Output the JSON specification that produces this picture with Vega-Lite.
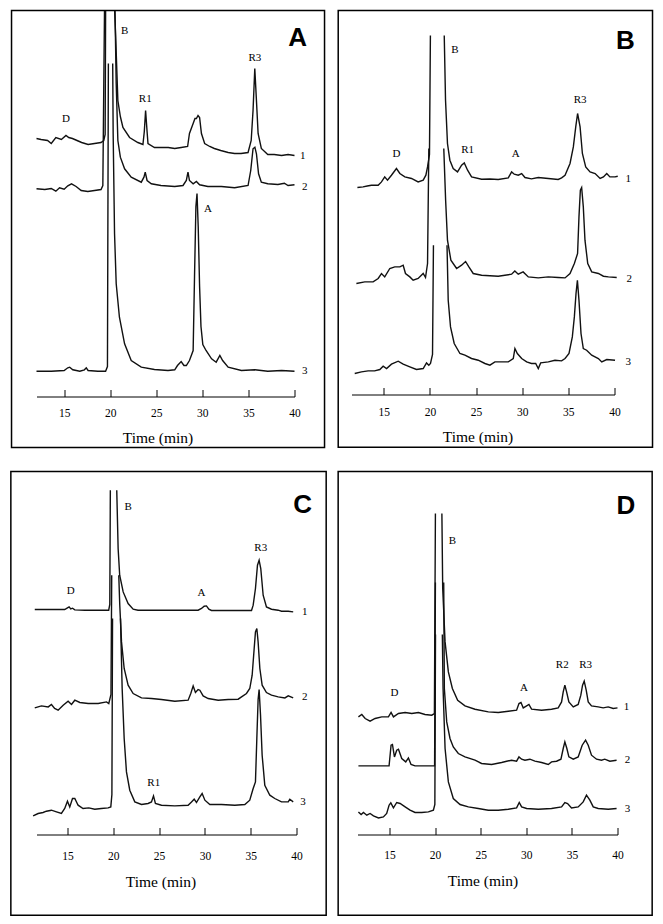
{
  "$schema": "https://vega.github.io/schema/vega-lite/v6.json",
  "padding": {"left": 9.5, "top": 7.5, "right": 0, "bottom": 0},
  "background": "white",
  "config": {"view": {"stroke": null}, "axis": {"grid": false}, "line": {"strokeWidth": 1.4}},
  "datasets": {
    "tracesA": [
      {"k":1,"t":12.0,"s":258},{"k":1,"t":12.5,"s":257},{"k":1,"t":13.2,"s":256},{"k":1,"t":13.6,"s":253},{"k":1,"t":14.1,"s":259},{"k":1,"t":14.7,"s":257},{"k":1,"t":15.2,"s":261},{"k":1,"t":15.5,"s":259},{"k":1,"t":15.9,"s":258},{"k":1,"t":16.4,"s":256},{"k":1,"t":16.9,"s":254},{"k":1,"t":17.6,"s":252},{"k":1,"t":18.3,"s":253},{"k":1,"t":19.0,"s":254},{"k":1,"t":19.3,"s":256},{"k":1,"t":19.45,"s":262},{"k":1,"t":19.5,"s":386},{"k":1,"t":19.9,"s":null},{"k":1,"t":20.48,"s":386},{"k":1,"t":20.58,"s":363},{"k":1,"t":20.83,"s":296},{"k":1,"t":21.1,"s":280},{"k":1,"t":21.38,"s":269},{"k":1,"t":22.1,"s":259},{"k":1,"t":23.0,"s":254},{"k":1,"t":23.55,"s":252},{"k":1,"t":23.7,"s":265},{"k":1,"t":23.84,"s":286},{"k":1,"t":24.0,"s":265},{"k":1,"t":24.1,"s":253},{"k":1,"t":24.8,"s":249},{"k":1,"t":25.5,"s":249},{"k":1,"t":26.3,"s":249},{"k":1,"t":27.0,"s":248},{"k":1,"t":27.7,"s":249},{"k":1,"t":28.4,"s":250},{"k":1,"t":28.6,"s":263},{"k":1,"t":29.0,"s":273},{"k":1,"t":29.2,"s":278},{"k":1,"t":29.35,"s":278},{"k":1,"t":29.53,"s":281},{"k":1,"t":29.7,"s":279},{"k":1,"t":29.9,"s":263},{"k":1,"t":30.25,"s":253},{"k":1,"t":30.8,"s":250},{"k":1,"t":31.3,"s":248},{"k":1,"t":32.0,"s":246},{"k":1,"t":32.8,"s":244},{"k":1,"t":33.5,"s":243},{"k":1,"t":34.2,"s":243},{"k":1,"t":34.96,"s":244},{"k":1,"t":35.3,"s":256},{"k":1,"t":35.5,"s":286},{"k":1,"t":35.69,"s":328},{"k":1,"t":35.87,"s":296},{"k":1,"t":36.05,"s":263},{"k":1,"t":36.4,"s":248},{"k":1,"t":37.1,"s":242},{"k":1,"t":37.8,"s":242},{"k":1,"t":38.6,"s":241},{"k":1,"t":39.3,"s":242},{"k":1,"t":40.0,"s":241},
      {"k":2,"t":12.0,"s":207.7},{"k":2,"t":12.9,"s":207},{"k":2,"t":13.6,"s":208},{"k":2,"t":14.1,"s":205.3},{"k":2,"t":14.5,"s":208.7},{"k":2,"t":15.0,"s":207.3},{"k":2,"t":15.4,"s":210.7},{"k":2,"t":15.8,"s":212.7},{"k":2,"t":16.3,"s":210},{"k":2,"t":16.85,"s":206},{"k":2,"t":17.57,"s":205},{"k":2,"t":18.3,"s":206},{"k":2,"t":19.0,"s":207},{"k":2,"t":19.2,"s":211},{"k":2,"t":19.38,"s":386},{"k":2,"t":19.9,"s":null},{"k":2,"t":20.52,"s":386},{"k":2,"t":20.65,"s":313},{"k":2,"t":20.83,"s":256},{"k":2,"t":21.1,"s":239.3},{"k":2,"t":21.56,"s":227.7},{"k":2,"t":22.28,"s":219.3},{"k":2,"t":23.37,"s":214.3},{"k":2,"t":23.66,"s":219.3},{"k":2,"t":23.8,"s":224.3},{"k":2,"t":24.0,"s":216},{"k":2,"t":24.46,"s":212.7},{"k":2,"t":25.5,"s":211},{"k":2,"t":27.0,"s":210},{"k":2,"t":27.9,"s":211},{"k":2,"t":28.26,"s":216},{"k":2,"t":28.44,"s":224.3},{"k":2,"t":28.6,"s":216},{"k":2,"t":29.0,"s":212.7},{"k":2,"t":29.35,"s":215},{"k":2,"t":29.7,"s":211.7},{"k":2,"t":30.6,"s":210},{"k":2,"t":32.07,"s":210},{"k":2,"t":33.5,"s":208.7},{"k":2,"t":34.96,"s":211},{"k":2,"t":35.25,"s":226},{"k":2,"t":35.5,"s":247.7},{"k":2,"t":35.7,"s":249.3},{"k":2,"t":35.87,"s":242.7},{"k":2,"t":36.1,"s":222.7},{"k":2,"t":36.4,"s":214.3},{"k":2,"t":37.1,"s":212.7},{"k":2,"t":38.2,"s":212},{"k":2,"t":38.9,"s":213.3},{"k":2,"t":39.3,"s":211},{"k":2,"t":40.0,"s":211.7},
      {"k":3,"t":12.0,"s":25.3},{"k":3,"t":13.6,"s":25.3},{"k":3,"t":15.0,"s":26},{"k":3,"t":15.4,"s":28.7},{"k":3,"t":15.6,"s":29.3},{"k":3,"t":15.94,"s":26.7},{"k":3,"t":16.7,"s":25.3},{"k":3,"t":17.2,"s":26.7},{"k":3,"t":17.4,"s":28.7},{"k":3,"t":17.6,"s":26},{"k":3,"t":18.66,"s":25.3},{"k":3,"t":19.5,"s":25.3},{"k":3,"t":19.7,"s":30},{"k":3,"t":19.8,"s":333},{"k":3,"t":20.0,"s":null},{"k":3,"t":20.27,"s":333},{"k":3,"t":20.32,"s":262.7},{"k":3,"t":20.47,"s":162.7},{"k":3,"t":20.65,"s":112.7},{"k":3,"t":21.0,"s":79.3},{"k":3,"t":21.56,"s":52.7},{"k":3,"t":22.28,"s":36},{"k":3,"t":23.37,"s":29.3},{"k":3,"t":24.8,"s":27},{"k":3,"t":26.27,"s":26},{"k":3,"t":27.0,"s":26.7},{"k":3,"t":27.3,"s":31},{"k":3,"t":27.7,"s":35},{"k":3,"t":28.0,"s":31},{"k":3,"t":28.26,"s":31},{"k":3,"t":28.6,"s":36},{"k":3,"t":29.0,"s":46},{"k":3,"t":29.15,"s":120},{"k":3,"t":29.3,"s":190},{"k":3,"t":29.42,"s":203},{"k":3,"t":29.55,"s":170},{"k":3,"t":29.7,"s":110},{"k":3,"t":29.85,"s":70},{"k":3,"t":30.05,"s":52},{"k":3,"t":30.4,"s":46},{"k":3,"t":31.0,"s":37.7},{"k":3,"t":31.5,"s":34.3},{"k":3,"t":31.9,"s":41},{"k":3,"t":32.2,"s":36},{"k":3,"t":32.8,"s":29.3},{"k":3,"t":34.24,"s":26},{"k":3,"t":35.7,"s":26.7},{"k":3,"t":37.1,"s":25.3},{"k":3,"t":38.6,"s":26},{"k":3,"t":40.0,"s":25.3}
    ],
    "labelsA": [
      {"text":"D","t":15.2,"s":277.7},{"text":"B","t":21.56,"s":366},{"text":"R1","t":23.8,"s":297.7},{"text":"R3","t":35.7,"s":339},{"text":"A","t":30.6,"s":187.7},{"text":"1","t":40.9,"s":241},{"text":"2","t":41.1,"s":210},{"text":"3","t":41.1,"s":26}
    ],
    "tracesB": [
      {"k":1,"t":12.14,"s":207},{"k":1,"t":12.76,"s":207.6},{"k":1,"t":13.2,"s":208.5},{"k":1,"t":13.66,"s":209.3},{"k":1,"t":14.39,"s":209.3},{"k":1,"t":14.75,"s":212.6},{"k":1,"t":15.1,"s":217.6},{"k":1,"t":15.4,"s":214.3},{"k":1,"t":15.83,"s":219.3},{"k":1,"t":16.37,"s":226},{"k":1,"t":16.74,"s":221},{"k":1,"t":17.28,"s":217.6},{"k":1,"t":18.0,"s":216},{"k":1,"t":18.72,"s":212.6},{"k":1,"t":19.27,"s":214.3},{"k":1,"t":19.56,"s":219.3},{"k":1,"t":19.74,"s":227.6},{"k":1,"t":19.95,"s":240},{"k":1,"t":20.05,"s":359},{"k":1,"t":20.8,"s":null},{"k":1,"t":21.55,"s":359},{"k":1,"t":21.69,"s":294.3},{"k":1,"t":21.9,"s":251},{"k":1,"t":22.16,"s":234.3},{"k":1,"t":22.52,"s":226},{"k":1,"t":22.99,"s":222.6},{"k":1,"t":23.43,"s":229.3},{"k":1,"t":23.72,"s":231.6},{"k":1,"t":24.08,"s":224.3},{"k":1,"t":24.51,"s":217.6},{"k":1,"t":25.6,"s":215.3},{"k":1,"t":26.5,"s":215.5},{"k":1,"t":27.4,"s":215},{"k":1,"t":28.49,"s":216.6},{"k":1,"t":28.85,"s":222.6},{"k":1,"t":29.14,"s":220.3},{"k":1,"t":29.57,"s":219.3},{"k":1,"t":29.94,"s":221},{"k":1,"t":30.3,"s":217},{"k":1,"t":31.0,"s":215.6},{"k":1,"t":31.74,"s":217},{"k":1,"t":32.83,"s":216},{"k":1,"t":33.9,"s":215},{"k":1,"t":34.27,"s":216.6},{"k":1,"t":34.64,"s":219.3},{"k":1,"t":35.18,"s":231},{"k":1,"t":35.54,"s":247.6},{"k":1,"t":35.8,"s":267.6},{"k":1,"t":36.0,"s":281},{"k":1,"t":36.27,"s":267.6},{"k":1,"t":36.52,"s":241},{"k":1,"t":36.88,"s":227.6},{"k":1,"t":37.35,"s":222.6},{"k":1,"t":37.9,"s":221},{"k":1,"t":38.44,"s":216},{"k":1,"t":38.8,"s":217.6},{"k":1,"t":39.16,"s":221},{"k":1,"t":39.5,"s":217.6},{"k":1,"t":40.06,"s":217.6},{"k":1,"t":40.35,"s":218.3},
      {"k":2,"t":12.03,"s":111},{"k":2,"t":12.94,"s":112.6},{"k":2,"t":13.84,"s":112.6},{"k":2,"t":14.39,"s":116},{"k":2,"t":14.75,"s":121},{"k":2,"t":15.1,"s":117.6},{"k":2,"t":15.65,"s":126},{"k":2,"t":16.19,"s":127.6},{"k":2,"t":16.74,"s":127.6},{"k":2,"t":17.1,"s":129.3},{"k":2,"t":17.35,"s":121},{"k":2,"t":17.82,"s":117.6},{"k":2,"t":18.18,"s":114.3},{"k":2,"t":18.72,"s":116},{"k":2,"t":19.27,"s":121},{"k":2,"t":19.52,"s":117},{"k":2,"t":19.74,"s":131},{"k":2,"t":19.88,"s":246},{"k":2,"t":20.7,"s":null},{"k":2,"t":21.5,"s":246},{"k":2,"t":21.7,"s":194.3},{"k":2,"t":21.9,"s":154.3},{"k":2,"t":22.27,"s":134.3},{"k":2,"t":22.89,"s":126},{"k":2,"t":23.43,"s":129.3},{"k":2,"t":23.86,"s":133},{"k":2,"t":24.22,"s":127.6},{"k":2,"t":24.69,"s":121},{"k":2,"t":25.6,"s":119.3},{"k":2,"t":27.4,"s":118.3},{"k":2,"t":28.85,"s":120.3},{"k":2,"t":29.2,"s":123.6},{"k":2,"t":29.57,"s":120.3},{"k":2,"t":30.1,"s":122.6},{"k":2,"t":30.66,"s":117.6},{"k":2,"t":31.74,"s":116.6},{"k":2,"t":32.83,"s":117.6},{"k":2,"t":33.9,"s":117},{"k":2,"t":34.64,"s":116.6},{"k":2,"t":35.18,"s":121},{"k":2,"t":35.65,"s":131},{"k":2,"t":36.0,"s":141},{"k":2,"t":36.15,"s":177.6},{"k":2,"t":36.3,"s":204.3},{"k":2,"t":36.44,"s":207},{"k":2,"t":36.62,"s":187.6},{"k":2,"t":36.8,"s":154.3},{"k":2,"t":37.1,"s":131},{"k":2,"t":37.53,"s":122.6},{"k":2,"t":38.25,"s":121},{"k":2,"t":38.8,"s":118.3},{"k":2,"t":39.34,"s":117.6},{"k":2,"t":40.24,"s":117},
      {"k":3,"t":11.85,"s":21},{"k":3,"t":12.58,"s":22.6},{"k":3,"t":13.3,"s":23.6},{"k":3,"t":14.0,"s":23.6},{"k":3,"t":14.57,"s":25},{"k":3,"t":14.93,"s":28.3},{"k":3,"t":15.3,"s":26},{"k":3,"t":15.83,"s":30.3},{"k":3,"t":16.56,"s":33.3},{"k":3,"t":17.1,"s":30.3},{"k":3,"t":17.82,"s":27.6},{"k":3,"t":18.54,"s":25},{"k":3,"t":19.27,"s":26},{"k":3,"t":19.63,"s":31.6},{"k":3,"t":19.88,"s":29.3},{"k":3,"t":20.06,"s":31},{"k":3,"t":20.28,"s":40},{"k":3,"t":20.38,"s":149.3},{"k":3,"t":21.0,"s":null},{"k":3,"t":21.85,"s":149.3},{"k":3,"t":21.98,"s":94.3},{"k":3,"t":22.23,"s":67.6},{"k":3,"t":22.63,"s":51},{"k":3,"t":23.25,"s":41},{"k":3,"t":23.79,"s":39.3},{"k":3,"t":24.51,"s":36},{"k":3,"t":25.23,"s":34.3},{"k":3,"t":25.96,"s":31},{"k":3,"t":26.5,"s":29.3},{"k":3,"t":27.04,"s":32.6},{"k":3,"t":27.77,"s":32.6},{"k":3,"t":28.49,"s":32.6},{"k":3,"t":29.03,"s":36},{"k":3,"t":29.21,"s":46},{"k":3,"t":29.47,"s":41},{"k":3,"t":29.94,"s":36},{"k":3,"t":30.48,"s":32.6},{"k":3,"t":31.0,"s":31},{"k":3,"t":31.46,"s":31},{"k":3,"t":31.74,"s":26},{"k":3,"t":32.0,"s":31.6},{"k":3,"t":32.83,"s":32.6},{"k":3,"t":33.55,"s":34.3},{"k":3,"t":34.27,"s":33.6},{"k":3,"t":34.64,"s":36},{"k":3,"t":35.07,"s":41},{"k":3,"t":35.43,"s":57.6},{"k":3,"t":35.65,"s":77.6},{"k":3,"t":35.83,"s":101},{"k":3,"t":35.98,"s":114.3},{"k":3,"t":36.15,"s":94.3},{"k":3,"t":36.37,"s":61},{"k":3,"t":36.62,"s":46},{"k":3,"t":36.98,"s":44.3},{"k":3,"t":37.53,"s":39.3},{"k":3,"t":38.25,"s":36},{"k":3,"t":38.62,"s":32.6},{"k":3,"t":39.16,"s":35},{"k":3,"t":40.06,"s":34.3}
    ],
    "labelsB": [
      {"text":"D","t":16.37,"s":241},{"text":"B","t":22.7,"s":345},{"text":"R1","t":24.08,"s":244.3},{"text":"A","t":29.29,"s":240.3},{"text":"R3","t":36.27,"s":294.3},{"text":"1","t":41.5,"s":216},{"text":"2","t":41.6,"s":116},{"text":"3","t":41.5,"s":32.6}
    ],
    "tracesC": [
      {"k":1,"t":11.43,"s":225},{"k":1,"t":12.5,"s":225},{"k":1,"t":13.5,"s":225},{"k":1,"t":14.7,"s":225},{"k":1,"t":15.0,"s":226.6},{"k":1,"t":15.18,"s":227.6},{"k":1,"t":15.36,"s":225.6},{"k":1,"t":15.55,"s":226.3},{"k":1,"t":15.8,"s":224.6},{"k":1,"t":16.9,"s":224.3},{"k":1,"t":18.7,"s":224.3},{"k":1,"t":19.5,"s":224.3},{"k":1,"t":19.62,"s":230},{"k":1,"t":19.68,"s":344.3},{"k":1,"t":20.0,"s":null},{"k":1,"t":20.38,"s":344.3},{"k":1,"t":20.53,"s":286},{"k":1,"t":20.7,"s":259.3},{"k":1,"t":21.08,"s":242.6},{"k":1,"t":21.62,"s":231},{"k":1,"t":22.17,"s":225.3},{"k":1,"t":22.7,"s":224.3},{"k":1,"t":26.0,"s":224.3},{"k":1,"t":29.26,"s":224.3},{"k":1,"t":29.63,"s":226},{"k":1,"t":29.92,"s":228.3},{"k":1,"t":30.17,"s":228.6},{"k":1,"t":30.43,"s":225.3},{"k":1,"t":30.72,"s":224},{"k":1,"t":33.27,"s":224},{"k":1,"t":35.09,"s":224},{"k":1,"t":35.27,"s":229.3},{"k":1,"t":35.52,"s":246},{"k":1,"t":35.74,"s":269.3},{"k":1,"t":35.92,"s":274.3},{"k":1,"t":36.1,"s":266},{"k":1,"t":36.36,"s":239.3},{"k":1,"t":36.72,"s":227.6},{"k":1,"t":37.27,"s":225.3},{"k":1,"t":38.0,"s":224.3},{"k":1,"t":38.36,"s":223.3},{"k":1,"t":39.1,"s":223.3},{"k":1,"t":39.64,"s":222.6},
      {"k":2,"t":11.43,"s":126.6},{"k":2,"t":12.16,"s":128.6},{"k":2,"t":12.9,"s":127.6},{"k":2,"t":13.25,"s":130},{"k":2,"t":13.6,"s":126},{"k":2,"t":13.98,"s":124.3},{"k":2,"t":14.53,"s":129.3},{"k":2,"t":15.07,"s":133.3},{"k":2,"t":15.44,"s":130},{"k":2,"t":15.8,"s":134.3},{"k":2,"t":16.35,"s":132},{"k":2,"t":17.26,"s":131},{"k":2,"t":18.35,"s":131},{"k":2,"t":19.26,"s":132.6},{"k":2,"t":19.51,"s":131},{"k":2,"t":19.75,"s":140},{"k":2,"t":19.83,"s":259.3},{"k":2,"t":20.2,"s":null},{"k":2,"t":20.6,"s":259.3},{"k":2,"t":20.71,"s":229.3},{"k":2,"t":20.9,"s":192.6},{"k":2,"t":21.19,"s":166},{"k":2,"t":21.62,"s":149.3},{"k":2,"t":22.17,"s":141},{"k":2,"t":23.08,"s":136.6},{"k":2,"t":24.17,"s":136},{"k":2,"t":25.26,"s":135},{"k":2,"t":26.72,"s":133.3},{"k":2,"t":28.17,"s":134.3},{"k":2,"t":28.46,"s":141},{"k":2,"t":28.72,"s":148.6},{"k":2,"t":28.97,"s":142},{"k":2,"t":29.26,"s":145},{"k":2,"t":29.45,"s":144.3},{"k":2,"t":29.81,"s":138.6},{"k":2,"t":30.36,"s":136},{"k":2,"t":31.45,"s":134.3},{"k":2,"t":32.54,"s":135},{"k":2,"t":33.63,"s":135.3},{"k":2,"t":34.0,"s":137.6},{"k":2,"t":34.54,"s":141},{"k":2,"t":34.9,"s":146},{"k":2,"t":35.16,"s":159.3},{"k":2,"t":35.38,"s":186},{"k":2,"t":35.52,"s":202.6},{"k":2,"t":35.67,"s":206},{"k":2,"t":35.81,"s":192.6},{"k":2,"t":36.0,"s":166},{"k":2,"t":36.25,"s":149.3},{"k":2,"t":36.72,"s":142},{"k":2,"t":37.27,"s":139.3},{"k":2,"t":38.0,"s":137.6},{"k":2,"t":38.73,"s":136.6},{"k":2,"t":39.1,"s":138.6},{"k":2,"t":39.64,"s":136.6},
      {"k":3,"t":11.25,"s":18.6},{"k":3,"t":11.8,"s":21},{"k":3,"t":12.34,"s":22},{"k":3,"t":12.7,"s":23.3},{"k":3,"t":13.25,"s":24.3},{"k":3,"t":13.8,"s":22.6},{"k":3,"t":14.34,"s":21},{"k":3,"t":14.7,"s":26},{"k":3,"t":15.0,"s":33.3},{"k":3,"t":15.25,"s":27.6},{"k":3,"t":15.55,"s":36},{"k":3,"t":15.8,"s":36},{"k":3,"t":16.16,"s":29.3},{"k":3,"t":16.7,"s":26},{"k":3,"t":17.33,"s":26.6},{"k":3,"t":17.98,"s":25.3},{"k":3,"t":18.7,"s":26},{"k":3,"t":19.44,"s":26.6},{"k":3,"t":19.73,"s":27.6},{"k":3,"t":19.85,"s":40},{"k":3,"t":19.92,"s":216},{"k":3,"t":20.3,"s":null},{"k":3,"t":20.79,"s":216},{"k":3,"t":20.97,"s":146},{"k":3,"t":21.19,"s":96},{"k":3,"t":21.44,"s":62.6},{"k":3,"t":21.8,"s":44.3},{"k":3,"t":22.35,"s":32.6},{"k":3,"t":23.08,"s":30},{"k":3,"t":23.8,"s":31},{"k":3,"t":24.17,"s":32.6},{"k":3,"t":24.39,"s":38.6},{"k":3,"t":24.6,"s":31},{"k":3,"t":25.26,"s":29.3},{"k":3,"t":26.72,"s":28.6},{"k":3,"t":28.17,"s":29.3},{"k":3,"t":28.54,"s":32.6},{"k":3,"t":28.83,"s":35.3},{"k":3,"t":29.08,"s":32},{"k":3,"t":29.45,"s":37.6},{"k":3,"t":29.7,"s":41},{"k":3,"t":30.0,"s":34.3},{"k":3,"t":30.54,"s":30},{"k":3,"t":31.81,"s":30},{"k":3,"t":33.27,"s":29.3},{"k":3,"t":34.36,"s":30},{"k":3,"t":34.9,"s":34.3},{"k":3,"t":35.27,"s":46},{"k":3,"t":35.52,"s":52.6},{"k":3,"t":35.67,"s":96},{"k":3,"t":35.81,"s":135},{"k":3,"t":35.92,"s":145},{"k":3,"t":36.07,"s":120},{"k":3,"t":36.25,"s":79.3},{"k":3,"t":36.54,"s":49.3},{"k":3,"t":37.09,"s":39.3},{"k":3,"t":37.63,"s":36},{"k":3,"t":38.36,"s":32.6},{"k":3,"t":39.1,"s":32.6},{"k":3,"t":39.27,"s":35.3},{"k":3,"t":39.64,"s":32.6}
    ],
    "labelsC": [
      {"text":"D","t":15.36,"s":243.3},{"text":"B","t":21.62,"s":327.6},{"text":"A","t":29.63,"s":242},{"text":"R3","t":36.1,"s":286.6},{"text":"R1","t":24.42,"s":52},{"text":"1","t":40.9,"s":222.6},{"text":"2","t":40.9,"s":137.6},{"text":"3","t":40.7,"s":32.6}
    ],
    "tracesD": [
      {"k":1,"t":11.6,"s":117.6},{"k":1,"t":11.97,"s":120},{"k":1,"t":12.34,"s":116},{"k":1,"t":12.88,"s":113.3},{"k":1,"t":13.43,"s":116},{"k":1,"t":14.16,"s":117.6},{"k":1,"t":14.89,"s":117.6},{"k":1,"t":15.18,"s":122},{"k":1,"t":15.44,"s":117.6},{"k":1,"t":15.99,"s":121},{"k":1,"t":16.72,"s":122},{"k":1,"t":17.45,"s":121},{"k":1,"t":18.18,"s":122},{"k":1,"t":18.9,"s":120},{"k":1,"t":19.64,"s":119.3},{"k":1,"t":19.93,"s":121},{"k":1,"t":20.04,"s":321},{"k":1,"t":20.4,"s":null},{"k":1,"t":20.75,"s":321},{"k":1,"t":20.84,"s":246},{"k":1,"t":21.1,"s":192.6},{"k":1,"t":21.46,"s":162.6},{"k":1,"t":21.9,"s":146},{"k":1,"t":22.48,"s":134.3},{"k":1,"t":23.28,"s":128.6},{"k":1,"t":24.38,"s":125.3},{"k":1,"t":25.84,"s":122.6},{"k":1,"t":26.93,"s":122},{"k":1,"t":28.03,"s":123.3},{"k":1,"t":28.94,"s":124.3},{"k":1,"t":29.2,"s":131},{"k":1,"t":29.42,"s":132},{"k":1,"t":29.67,"s":126.6},{"k":1,"t":30.04,"s":128.6},{"k":1,"t":30.29,"s":130},{"k":1,"t":30.58,"s":125.3},{"k":1,"t":31.68,"s":124.3},{"k":1,"t":32.77,"s":125.3},{"k":1,"t":33.5,"s":126.6},{"k":1,"t":33.87,"s":132.6},{"k":1,"t":34.05,"s":142.6},{"k":1,"t":34.23,"s":149.3},{"k":1,"t":34.42,"s":142.6},{"k":1,"t":34.67,"s":132.6},{"k":1,"t":35.15,"s":127.6},{"k":1,"t":35.69,"s":130},{"k":1,"t":35.98,"s":139.3},{"k":1,"t":36.17,"s":149.3},{"k":1,"t":36.35,"s":153.3},{"k":1,"t":36.57,"s":144.3},{"k":1,"t":36.79,"s":132.6},{"k":1,"t":37.15,"s":128.6},{"k":1,"t":37.88,"s":127.6},{"k":1,"t":38.43,"s":126.6},{"k":1,"t":38.98,"s":127.6},{"k":1,"t":39.53,"s":126},{"k":1,"t":40.0,"s":126.6},
      {"k":2,"t":11.6,"s":68.6},{"k":2,"t":14.96,"s":68.6},{"k":2,"t":15.18,"s":89.3},{"k":2,"t":15.33,"s":90},{"k":2,"t":15.55,"s":77.6},{"k":2,"t":15.8,"s":84.3},{"k":2,"t":15.99,"s":85.3},{"k":2,"t":16.35,"s":76},{"k":2,"t":16.79,"s":72.6},{"k":2,"t":17.08,"s":76.6},{"k":2,"t":17.37,"s":70},{"k":2,"t":17.81,"s":68.6},{"k":2,"t":19.95,"s":68.6},{"k":2,"t":20.04,"s":252},{"k":2,"t":20.5,"s":null},{"k":2,"t":20.95,"s":252},{"k":2,"t":21.02,"s":146},{"k":2,"t":21.28,"s":112.6},{"k":2,"t":21.64,"s":96},{"k":2,"t":22.0,"s":87.6},{"k":2,"t":22.55,"s":81},{"k":2,"t":23.28,"s":77.6},{"k":2,"t":24.38,"s":74.3},{"k":2,"t":25.1,"s":71},{"k":2,"t":26.2,"s":70},{"k":2,"t":27.3,"s":72},{"k":2,"t":27.85,"s":73.3},{"k":2,"t":28.39,"s":74.3},{"k":2,"t":28.94,"s":73.3},{"k":2,"t":29.2,"s":77.6},{"k":2,"t":29.49,"s":75.3},{"k":2,"t":29.85,"s":74.3},{"k":2,"t":30.4,"s":75.3},{"k":2,"t":30.95,"s":73.3},{"k":2,"t":31.68,"s":72},{"k":2,"t":32.41,"s":70},{"k":2,"t":32.77,"s":72.6},{"k":2,"t":33.32,"s":73.3},{"k":2,"t":33.8,"s":75.3},{"k":2,"t":34.05,"s":86},{"k":2,"t":34.23,"s":92.6},{"k":2,"t":34.45,"s":86},{"k":2,"t":34.67,"s":77.6},{"k":2,"t":35.15,"s":75.3},{"k":2,"t":35.69,"s":77.6},{"k":2,"t":36.13,"s":89.3},{"k":2,"t":36.5,"s":94.3},{"k":2,"t":36.79,"s":89.3},{"k":2,"t":37.15,"s":79.3},{"k":2,"t":37.7,"s":75.3},{"k":2,"t":38.25,"s":74.3},{"k":2,"t":38.6,"s":75.3},{"k":2,"t":39.16,"s":73.3},{"k":2,"t":39.9,"s":74.3},
      {"k":3,"t":11.6,"s":22.6},{"k":3,"t":11.9,"s":20},{"k":3,"t":12.15,"s":22},{"k":3,"t":12.52,"s":19.3},{"k":3,"t":12.88,"s":21},{"k":3,"t":13.25,"s":18.6},{"k":3,"t":13.8,"s":16.6},{"k":3,"t":14.34,"s":17.6},{"k":3,"t":14.7,"s":21},{"k":3,"t":14.96,"s":29.3},{"k":3,"t":15.15,"s":31.6},{"k":3,"t":15.44,"s":26.6},{"k":3,"t":15.8,"s":32},{"k":3,"t":16.17,"s":31},{"k":3,"t":16.72,"s":27.6},{"k":3,"t":17.26,"s":24.3},{"k":3,"t":17.81,"s":22},{"k":3,"t":18.54,"s":22},{"k":3,"t":19.27,"s":22.6},{"k":3,"t":19.82,"s":24.3},{"k":3,"t":19.98,"s":30},{"k":3,"t":20.05,"s":200},{"k":3,"t":20.4,"s":null},{"k":3,"t":20.8,"s":200},{"k":3,"t":20.88,"s":146},{"k":3,"t":21.1,"s":86},{"k":3,"t":21.46,"s":52.6},{"k":3,"t":22.0,"s":36},{"k":3,"t":22.74,"s":30},{"k":3,"t":23.65,"s":27.6},{"k":3,"t":24.74,"s":26},{"k":3,"t":25.84,"s":24.3},{"k":3,"t":26.93,"s":24.3},{"k":3,"t":28.03,"s":25.3},{"k":3,"t":28.94,"s":26.6},{"k":3,"t":29.23,"s":32},{"k":3,"t":29.49,"s":27.6},{"k":3,"t":30.04,"s":26},{"k":3,"t":31.31,"s":25.3},{"k":3,"t":32.77,"s":26},{"k":3,"t":33.87,"s":27.6},{"k":3,"t":34.23,"s":32},{"k":3,"t":34.53,"s":31},{"k":3,"t":34.96,"s":26.6},{"k":3,"t":35.69,"s":27.6},{"k":3,"t":36.24,"s":32.6},{"k":3,"t":36.6,"s":39.3},{"k":3,"t":36.97,"s":34.3},{"k":3,"t":37.34,"s":27.6},{"k":3,"t":37.88,"s":26},{"k":3,"t":38.98,"s":25.3},{"k":3,"t":39.9,"s":26}
    ],
    "labelsD": [
      {"text":"D","t":15.55,"s":142},{"text":"B","t":21.9,"s":293.3},{"text":"A","t":29.74,"s":146.6},{"text":"R2","t":33.94,"s":170},{"text":"R3","t":36.5,"s":170},{"text":"1","t":41.0,"s":127.6},{"text":"2","t":41.1,"s":74.3},{"text":"3","t":41.1,"s":26}
    ]
  },
  "columns": 1,
  "align": "none",
  "spacing": 22,
  "concat": [
    {
      "spacing": 11,
      "hconcat": [
        {
          "width": 258, "height": 386,
          "layer": [
            {
              "data": {"name": "tracesA"},
              "mark": {"type": "line", "color": "#111", "invalid": "break-paths-filter-domains"},
              "encoding": {
                "x": {"field": "t", "type": "quantitative", "scale": {"domain": [12, 40], "nice": false, "zero": false},
                  "axis": {"values": [15,20,25,30,35,40], "title": "Time (min)", "grid": false, "domainColor": "#000", "domainWidth": 1, "tickColor": "#000", "tickWidth": 1, "tickSize": -7, "labelPadding": 24, "labelBaseline": "middle", "labelFont": "Liberation Serif", "labelFontSize": 11.5, "labelColor": "#000", "labelFlush": false, "labelOverlap": false, "titleFont": "Liberation Serif", "titleFontSize": 15.5, "titleFontWeight": "normal", "titleColor": "#000", "titleX": 121, "titleY": 41, "titleBaseline": "middle", "titleAlign": "center"}},
                "y": {"field": "s", "type": "quantitative", "scale": {"domain": [0, 386], "nice": false, "zero": false}, "axis": null},
                "detail": {"field": "k"}
              }
            },
            {
              "data": {"name": "labelsA"},
              "mark": {"type": "text", "font": "Liberation Serif", "fontSize": 11, "color": "#000", "align": "center", "baseline": "middle"},
              "encoding": {"x": {"field": "t", "type": "quantitative"}, "y": {"field": "s", "type": "quantitative", "axis": null}, "text": {"field": "text"}}
            },
            {
              "data": {"values": [{"letter": "A"}]},
              "mark": {"type": "text", "font": "Liberation Sans", "fontWeight": "bold", "fontSize": 26, "color": "#000", "align": "center", "baseline": "middle"},
              "encoding": {"x": {"datum": 40.33, "type": "quantitative"}, "y": {"datum": 358.5, "type": "quantitative", "axis": null}, "text": {"field": "letter"}}
            },
            {
              "data": {"values": [{}]},
              "mark": {"type": "rect", "filled": false, "stroke": "#000", "strokeWidth": 1.5},
              "encoding": {"x": {"datum": 9.29, "type": "quantitative"}, "x2": {"datum": 43.26}, "y": {"datum": -51, "type": "quantitative", "axis": null}, "y2": {"datum": 386}}
            }
          ]
        },
        {
          "width": 263, "height": 384,
          "layer": [
            {
              "data": {"name": "tracesB"},
              "mark": {"type": "line", "color": "#111", "invalid": "break-paths-filter-domains"},
              "encoding": {
                "x": {"field": "t", "type": "quantitative", "scale": {"domain": [11.5, 40], "nice": false, "zero": false},
                  "axis": {"values": [15,20,25,30,35,40], "title": "Time (min)", "grid": false, "domainColor": "#000", "domainWidth": 1, "tickColor": "#000", "tickWidth": 1, "tickSize": -7, "labelPadding": 25, "labelBaseline": "middle", "labelFont": "Liberation Serif", "labelFontSize": 11.5, "labelColor": "#000", "labelFlush": false, "labelOverlap": false, "titleFont": "Liberation Serif", "titleFontSize": 15.5, "titleFontWeight": "normal", "titleColor": "#000", "titleX": 126, "titleY": 42, "titleBaseline": "middle", "titleAlign": "center"}},
                "y": {"field": "s", "type": "quantitative", "scale": {"domain": [0, 384], "nice": false, "zero": false}, "axis": null},
                "detail": {"field": "k"}
              }
            },
            {
              "data": {"name": "labelsB"},
              "mark": {"type": "text", "font": "Liberation Serif", "fontSize": 11, "color": "#000", "align": "center", "baseline": "middle"},
              "encoding": {"x": {"field": "t", "type": "quantitative"}, "y": {"field": "s", "type": "quantitative", "axis": null}, "text": {"field": "text"}}
            },
            {
              "data": {"values": [{"letter": "B"}]},
              "mark": {"type": "text", "font": "Liberation Sans", "fontWeight": "bold", "fontSize": 26, "color": "#000", "align": "center", "baseline": "middle"},
              "encoding": {"x": {"datum": 41.19, "type": "quantitative"}, "y": {"datum": 353.3, "type": "quantitative", "axis": null}, "text": {"field": "letter"}}
            },
            {
              "data": {"values": [{}]},
              "mark": {"type": "rect", "filled": false, "stroke": "#000", "strokeWidth": 1.5},
              "encoding": {"x": {"datum": 10.06, "type": "quantitative"}, "x2": {"datum": 44.12}, "y": {"datum": -52.7, "type": "quantitative", "axis": null}, "y2": {"datum": 384}}
            }
          ]
        }
      ]
    },
    {
      "spacing": 9,
      "hconcat": [
        {
          "width": 260, "height": 363,
          "layer": [
            {
              "data": {"name": "tracesC"},
              "mark": {"type": "line", "color": "#111", "invalid": "break-paths-filter-domains"},
              "encoding": {
                "x": {"field": "t", "type": "quantitative", "scale": {"domain": [11.62, 40], "nice": false, "zero": false},
                  "axis": {"values": [15,20,25,30,35,40], "title": "Time (min)", "grid": false, "domainColor": "#000", "domainWidth": 1, "tickColor": "#000", "tickWidth": 1, "tickSize": -7, "labelPadding": 28.7, "labelBaseline": "middle", "labelFont": "Liberation Serif", "labelFontSize": 11.5, "labelColor": "#000", "labelFlush": false, "labelOverlap": false, "titleFont": "Liberation Serif", "titleFontSize": 15.5, "titleFontWeight": "normal", "titleColor": "#000", "titleX": 124, "titleY": 47, "titleBaseline": "middle", "titleAlign": "center"}},
                "y": {"field": "s", "type": "quantitative", "scale": {"domain": [0, 363], "nice": false, "zero": false}, "axis": null},
                "detail": {"field": "k"}
              }
            },
            {
              "data": {"name": "labelsC"},
              "mark": {"type": "text", "font": "Liberation Serif", "fontSize": 11, "color": "#000", "align": "center", "baseline": "middle"},
              "encoding": {"x": {"field": "t", "type": "quantitative"}, "y": {"field": "s", "type": "quantitative", "axis": null}, "text": {"field": "text"}}
            },
            {
              "data": {"values": [{"letter": "C"}]},
              "mark": {"type": "text", "font": "Liberation Sans", "fontWeight": "bold", "fontSize": 26, "color": "#000", "align": "center", "baseline": "middle"},
              "encoding": {"x": {"datum": 40.68, "type": "quantitative"}, "y": {"datum": 329.6, "type": "quantitative", "axis": null}, "text": {"field": "letter"}}
            },
            {
              "data": {"values": [{}]},
              "mark": {"type": "rect", "filled": false, "stroke": "#000", "strokeWidth": 1.5},
              "encoding": {"x": {"datum": 8.82, "type": "quantitative"}, "x2": {"datum": 43.24}, "y": {"datum": -80.7, "type": "quantitative", "axis": null}, "y2": {"datum": 363}}
            }
          ]
        },
        {
          "width": 260, "height": 363,
          "layer": [
            {
              "data": {"name": "tracesD"},
              "mark": {"type": "line", "color": "#111", "invalid": "break-paths-filter-domains"},
              "encoding": {
                "x": {"field": "t", "type": "quantitative", "scale": {"domain": [11.5, 40], "nice": false, "zero": false},
                  "axis": {"values": [15,20,25,30,35,40], "title": "Time (min)", "grid": false, "domainColor": "#000", "domainWidth": 1, "tickColor": "#000", "tickWidth": 1, "tickSize": -7, "labelPadding": 27.7, "labelBaseline": "middle", "labelFont": "Liberation Serif", "labelFontSize": 11.5, "labelColor": "#000", "labelFlush": false, "labelOverlap": false, "titleFont": "Liberation Serif", "titleFontSize": 15.5, "titleFontWeight": "normal", "titleColor": "#000", "titleX": 125, "titleY": 46, "titleBaseline": "middle", "titleAlign": "center"}},
                "y": {"field": "s", "type": "quantitative", "scale": {"domain": [0, 363], "nice": false, "zero": false}, "axis": null},
                "detail": {"field": "k"}
              }
            },
            {
              "data": {"name": "labelsD"},
              "mark": {"type": "text", "font": "Liberation Serif", "fontSize": 11, "color": "#000", "align": "center", "baseline": "middle"},
              "encoding": {"x": {"field": "t", "type": "quantitative"}, "y": {"field": "s", "type": "quantitative", "axis": null}, "text": {"field": "text"}}
            },
            {
              "data": {"values": [{"letter": "D"}]},
              "mark": {"type": "text", "font": "Liberation Sans", "fontWeight": "bold", "fontSize": 26, "color": "#000", "align": "center", "baseline": "middle"},
              "encoding": {"x": {"datum": 40.93, "type": "quantitative"}, "y": {"datum": 328.3, "type": "quantitative", "axis": null}, "text": {"field": "letter"}}
            },
            {
              "data": {"values": [{}]},
              "mark": {"type": "rect", "filled": false, "stroke": "#000", "strokeWidth": 1.5},
              "encoding": {"x": {"datum": 9.38, "type": "quantitative"}, "x2": {"datum": 43.8}, "y": {"datum": -80.7, "type": "quantitative", "axis": null}, "y2": {"datum": 363}}
            }
          ]
        }
      ]
    }
  ]
}
